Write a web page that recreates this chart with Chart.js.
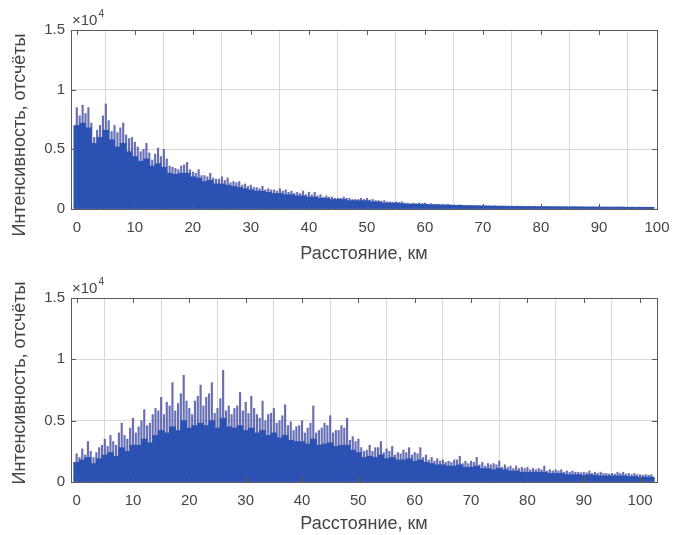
<!DOCTYPE html>
<html><head><meta charset="utf-8">
<script src="https://cdn.jsdelivr.net/npm/chart.js@4/dist/chart.umd.min.js"></script>
<style>
html,body{margin:0;padding:0;background:#fff;width:680px;height:535px;overflow:hidden}
canvas{position:absolute;left:0}
</style></head>
<body>
<canvas id="c1" width="680" height="265" style="top:0px"></canvas>
<canvas id="c2" width="680" height="267" style="top:268px"></canvas>
<script>
// ---------- DATA (intensity in units of 10^4 counts) ----------
const xTitle = 'Расстояние, км';
const yTitle = 'Интенсивность, отсчёты';
const yTicks = [0, 0.5, 1, 1.5];
const xTicks = [0, 10, 20, 30, 40, 50, 60, 70, 80, 90, 100];

// Top trace: spike peaks at each whole km (0..99)
const topPeak = [
 0.85,0.87,0.85,0.60,0.70,0.88,0.65,0.64,0.72,0.59,
 0.56,0.48,0.55,0.41,0.51,0.50,0.36,0.34,0.36,0.39,
 0.31,0.33,0.28,0.30,0.25,0.27,0.26,0.23,0.23,0.21,
 0.20,0.18,0.19,0.17,0.16,0.17,0.16,0.15,0.14,0.15,
 0.14,0.14,0.12,0.11,0.10,0.09,0.10,0.09,0.08,0.09,
 0.09,0.08,0.07,0.07,0.06,0.06,0.06,0.05,0.05,0.05,
 0.05,0.045,0.04,0.04,0.04,0.035,0.035,0.03,0.03,0.03,
 0.03,0.028,0.028,0.027,0.026,0.025,0.025,0.024,0.024,0.023,
 0.022,0.022,0.021,0.021,0.02,0.02,0.02,0.02,0.019,0.019,
 0.019,0.018,0.018,0.018,0.018,0.017,0.017,0.017,0.016,0.016
];
// Top trace: secondary spikes at half-km positions (0.5..98.5)
const topMid = [
 0.78,0.80,0.72,0.66,0.78,0.74,0.70,0.68,0.62,0.60,
 0.52,0.50,0.47,0.46,0.44,0.42,0.35,0.33,0.37,0.33,
 0.30,0.28,0.27,0.26,0.25,0.24,0.22,0.22,0.20,0.19,
 0.18,0.17,0.16,0.16,0.15,0.15,0.14,0.13,0.13,0.12,
 0.12,0.11,0.10,0.10,0.09,0.09,0.09,0.08,0.08,0.08,
 0.075,0.07,0.065,0.06,0.055,0.055,0.05,0.045,0.045,0.045,
 0.04,0.04,0.038,0.036,0.034,0.032,0.031,0.03,0.029,0.028,
 0.027,0.026,0.025,0.025,0.024,0.023,0.023,0.022,0.022,0.021,
 0.021,0.02,0.02,0.019,0.019,0.019,0.018,0.018,0.018,0.017,
 0.017,0.017,0.016,0.016,0.016,0.016,0.015,0.015,0.015
];
// Top trace: dense (solid) core height at each whole km
const topCore = [
 0.70,0.72,0.68,0.55,0.60,0.66,0.58,0.52,0.55,0.48,
 0.44,0.40,0.42,0.36,0.38,0.35,0.30,0.29,0.30,0.30,
 0.27,0.26,0.23,0.24,0.21,0.21,0.20,0.19,0.18,0.17,
 0.16,0.15,0.15,0.14,0.13,0.13,0.12,0.12,0.11,0.11,
 0.10,0.10,0.09,0.09,0.08,0.08,0.08,0.07,0.07,0.07,
 0.07,0.06,0.06,0.05,0.05,0.05,0.045,0.04,0.04,0.04,
 0.04,0.035,0.035,0.033,0.032,0.03,0.03,0.028,0.027,0.026,
 0.025,0.024,0.023,0.022,0.022,0.021,0.021,0.02,0.02,0.02,
 0.019,0.019,0.018,0.018,0.018,0.017,0.017,0.017,0.016,0.016,
 0.016,0.015,0.015,0.015,0.015,0.014,0.014,0.014,0.014,0.014
];

// Bottom trace: spike peaks at each whole km (0..102)
const botPeak = [
 0.23,0.27,0.33,0.20,0.28,0.35,0.38,0.30,0.48,0.35,
 0.52,0.45,0.59,0.48,0.60,0.69,0.65,0.81,0.64,0.87,
 0.60,0.66,0.79,0.69,0.81,0.60,0.91,0.62,0.60,0.73,
 0.65,0.70,0.55,0.66,0.55,0.60,0.50,0.63,0.49,0.45,
 0.50,0.44,0.62,0.42,0.48,0.54,0.42,0.46,0.52,0.37,
 0.35,0.25,0.30,0.28,0.33,0.27,0.29,0.24,0.26,0.28,
 0.24,0.28,0.22,0.20,0.19,0.18,0.17,0.18,0.21,0.17,
 0.17,0.20,0.16,0.15,0.15,0.17,0.14,0.13,0.13,0.12,
 0.12,0.11,0.11,0.13,0.10,0.10,0.10,0.09,0.09,0.08,
 0.08,0.09,0.08,0.08,0.07,0.07,0.08,0.08,0.07,0.07,
 0.06,0.06,0.06
];
// Bottom trace: secondary spikes at half-km positions (0.5..101.5)
const botMid = [
 0.20,0.22,0.25,0.24,0.30,0.29,0.33,0.40,0.38,0.44,
 0.40,0.50,0.46,0.55,0.58,0.55,0.62,0.58,0.72,0.66,
 0.55,0.70,0.62,0.72,0.56,0.68,0.58,0.55,0.62,0.58,
 0.56,0.60,0.52,0.50,0.56,0.48,0.54,0.46,0.42,0.46,
 0.40,0.48,0.40,0.44,0.46,0.40,0.42,0.44,0.34,0.33,
 0.28,0.26,0.25,0.28,0.24,0.25,0.22,0.23,0.24,0.22,
 0.23,0.20,0.18,0.17,0.17,0.16,0.16,0.18,0.15,0.15,
 0.16,0.14,0.13,0.14,0.14,0.12,0.12,0.11,0.11,0.11,
 0.10,0.10,0.10,0.09,0.09,0.09,0.08,0.08,0.08,0.075,
 0.075,0.07,0.07,0.07,0.065,0.065,0.07,0.065,0.06,0.06,
 0.055,0.055
];
// Bottom trace: dense (solid) core height at each whole km
const botCore = [
 0.16,0.18,0.20,0.15,0.19,0.22,0.24,0.21,0.28,0.25,
 0.30,0.30,0.35,0.32,0.38,0.42,0.40,0.45,0.42,0.50,
 0.44,0.46,0.48,0.46,0.50,0.44,0.52,0.45,0.44,0.46,
 0.42,0.44,0.40,0.42,0.38,0.40,0.36,0.38,0.34,0.33,
 0.33,0.31,0.35,0.30,0.31,0.32,0.29,0.30,0.30,0.26,
 0.24,0.20,0.21,0.20,0.22,0.19,0.20,0.18,0.18,0.19,
 0.17,0.18,0.16,0.15,0.14,0.14,0.13,0.13,0.14,0.12,
 0.12,0.13,0.11,0.11,0.10,0.11,0.10,0.09,0.09,0.08,
 0.08,0.08,0.08,0.08,0.07,0.07,0.07,0.06,0.06,0.06,
 0.055,0.06,0.055,0.05,0.05,0.05,0.05,0.05,0.045,0.045,
 0.04,0.04,0.04
];

// ---------- RENDERING ----------
const FONT = "'Liberation Sans', Arial, sans-serif";
const TXT = '#454545';
const SPIKE = 'rgba(82,84,160,0.85)';
const SPIKE2 = 'rgba(60,80,170,0.8)';
const CORE = '#2b52b2';

const boxPlugin = {
  id: 'matlabBox',
  afterDatasetsDraw(chart, args, opts) {
    const {ctx, chartArea: a, scales: {x, y}} = chart;
    ctx.save();
    ctx.strokeStyle = '#5a5a5a';
    ctx.lineWidth = 1;
    ctx.strokeRect(Math.round(a.left) + 0.5, Math.round(a.top) + 0.5,
                   Math.round(a.right - a.left), Math.round(a.bottom - a.top));
    ctx.beginPath();
    x.ticks.forEach(t => {
      const px = Math.round(x.getPixelForValue(t.value)) + 0.5;
      ctx.moveTo(px, a.bottom); ctx.lineTo(px, a.bottom - 5);
      ctx.moveTo(px, a.top); ctx.lineTo(px, a.top + 5);
    });
    y.ticks.forEach(t => {
      const py = Math.round(y.getPixelForValue(t.value)) + 0.5;
      ctx.moveTo(a.left, py); ctx.lineTo(a.left + 5, py);
      ctx.moveTo(a.right, py); ctx.lineTo(a.right - 5, py);
    });
    ctx.stroke();
    // exponent label
    ctx.fillStyle = TXT;
    ctx.textBaseline = 'alphabetic';
    ctx.textAlign = 'left';
    ctx.font = '15px ' + FONT;
    ctx.fillText('×10', a.left + 1, a.top - 5);
    const w = ctx.measureText('×10').width;
    ctx.font = '10px ' + FONT;
    ctx.fillText('4', a.left + 1 + w + 1, a.top - 13);
    // rotated y-axis title
    ctx.font = '18px ' + FONT;
    ctx.textAlign = 'center';
    ctx.textBaseline = 'middle';
    ctx.translate(20, opts.yTitleCenter);
    ctx.rotate(-Math.PI / 2);
    ctx.fillText(yTitle, 0, 0);
    ctx.restore();
  }
};

function makeChart(id, peak, mid, core, xmin, xmax, xAxisH, yTitleCenter) {
  const km = peak.map((_, i) => i);
  const kmHalf = mid.map((_, i) => i + 0.5);
  const peakData = km.map((k, i) => ({x: k, y: [0, peak[i]]}));
  const midData = kmHalf.map((k, i) => ({x: k, y: [0, mid[i]]}));
  const coreData = km.map((k, i) => ({x: k, y: [0, core[i]]}));
  return new Chart(document.getElementById(id), {
    type: 'bar',
    data: {
      datasets: [
        {label: 'core', data: coreData, backgroundColor: CORE, borderWidth: 0,
         barThickness: 6, grouped: false, order: 1},
        {label: 'mid', data: midData, backgroundColor: SPIKE2, borderWidth: 0,
         barThickness: 1.5, grouped: false, order: 2},
        {label: 'peak', data: peakData, backgroundColor: SPIKE, borderWidth: 0,
         barThickness: 1.5, grouped: false, order: 3}
      ]
    },
    options: {
      responsive: false, animation: false,
      layout: {padding: {top: 30, right: 23, left: 0, bottom: 0}},
      plugins: {legend: {display: false}, tooltip: {enabled: false},
                matlabBox: {yTitleCenter: yTitleCenter}},
      scales: {
        x: {
          type: 'linear', min: xmin, max: xmax, offset: false,
          afterBuildTicks: s => { s.ticks = xTicks.map(v => ({value: v})); },
          afterFit: s => { s.height = xAxisH; },
          grid: {color: '#d9d9d9', drawTicks: false, lineWidth: 1},
          border: {display: false},
          ticks: {color: TXT, font: {family: FONT, size: 15}, padding: 10, maxRotation: 0,
                  callback: v => String(v)},
          title: {display: true, text: xTitle, color: TXT, font: {family: FONT, size: 18},
                  padding: {top: 0, bottom: 0}}
        },
        y: {
          min: 0, max: 1.5,
          afterBuildTicks: s => { s.ticks = yTicks.map(v => ({value: v})); },
          afterFit: s => { s.width = 71; },
          grid: {color: '#d9d9d9', drawTicks: false, lineWidth: 1},
          border: {display: false},
          ticks: {color: TXT, font: {family: FONT, size: 15}, padding: 6,
                  callback: v => String(v)},
          title: {display: false}
        }
      }
    },
    plugins: [boxPlugin]
  });
}

makeChart('c1', topPeak, topMid, topCore, -1, 100, 56, 135);
makeChart('c2', botPeak, botMid, botCore, -1, 103, 53, 115);
</script>
</body></html>
